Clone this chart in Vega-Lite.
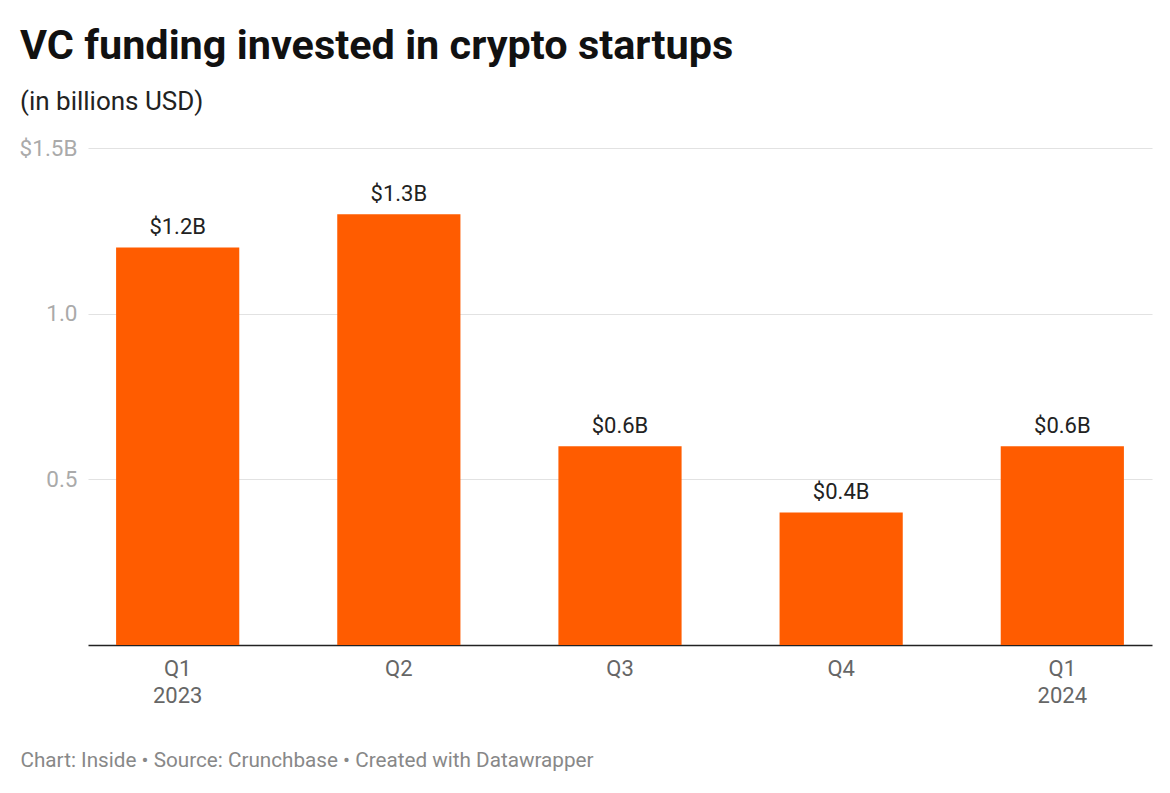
{
  "$schema": "https://vega.github.io/schema/vega-lite/v6.json",
  "width": 1064,
  "height": 497,
  "autosize": {"type": "none"},
  "padding": {"left": 88, "top": 148, "right": 18, "bottom": 148},
  "background": "white",
  "config": {
    "font": "Roboto",
    "view": {"stroke": null}
  },
  "title": {
    "text": "VC funding invested in crypto startups",
    "subtitle": "(in billions USD)",
    "anchor": "start",
    "frame": "group",
    "dx": -68,
    "offset": 22,
    "font": "Roboto",
    "fontSize": 41.4,
    "fontWeight": "bold",
    "color": "#111111",
    "subtitleFont": "Roboto",
    "subtitleFontSize": 26,
    "subtitleColor": "#222222",
    "subtitlePadding": 22
  },
  "data": {
    "values": [
      {"quarter": "Q1|2023", "value": 1.2, "label": "$1.2B"},
      {"quarter": "Q2", "value": 1.3, "label": "$1.3B"},
      {"quarter": "Q3", "value": 0.6, "label": "$0.6B"},
      {"quarter": "Q4", "value": 0.4, "label": "$0.4B"},
      {"quarter": "Q1|2024", "value": 0.6, "label": "$0.6B"}
    ]
  },
  "encoding": {
    "x": {
      "field": "quarter",
      "type": "nominal",
      "sort": null,
      "scale": {"paddingInner": 0.443, "paddingOuter": 0.127},
      "axis": {
        "title": "Chart: Inside • Source: Crunchbase • Created with Datawrapper",
        "titleAnchor": "start",
        "titleAlign": "left",
        "titleX": -68,
        "titleY": 105,
        "titleFont": "Roboto",
        "titleFontSize": 20.7,
        "titleFontWeight": "normal",
        "titleColor": "#888888",
        "labelExpr": "split(datum.label, '|')",
        "labelAngle": 0,
        "labelFont": "Roboto",
        "labelFontSize": 22,
        "labelColor": "#666666",
        "labelLineHeight": 27,
        "labelPadding": 13,
        "ticks": false,
        "domain": true,
        "domainColor": "#222222",
        "domainWidth": 1.5
      }
    },
    "y": {
      "field": "value",
      "type": "quantitative",
      "scale": {"domain": [0, 1.5], "nice": false},
      "axis": {
        "title": null,
        "values": [0.5, 1, 1.5],
        "labelExpr": "datum.value == 1.5 ? '$1.5B' : format(datum.value, '.1f')",
        "labelFont": "Roboto",
        "labelFontSize": 22.5,
        "labelColor": "#aaaaaa",
        "labelPadding": 11,
        "ticks": false,
        "domain": false,
        "grid": true,
        "gridColor": "#e2e2e2",
        "gridWidth": 1.2
      }
    }
  },
  "layer": [
    {
      "mark": {"type": "bar", "color": "#ff5c00"}
    },
    {
      "mark": {
        "type": "text",
        "baseline": "alphabetic",
        "dy": -13,
        "font": "Roboto",
        "fontSize": 22,
        "color": "#222222"
      },
      "encoding": {"text": {"field": "label"}}
    }
  ]
}
